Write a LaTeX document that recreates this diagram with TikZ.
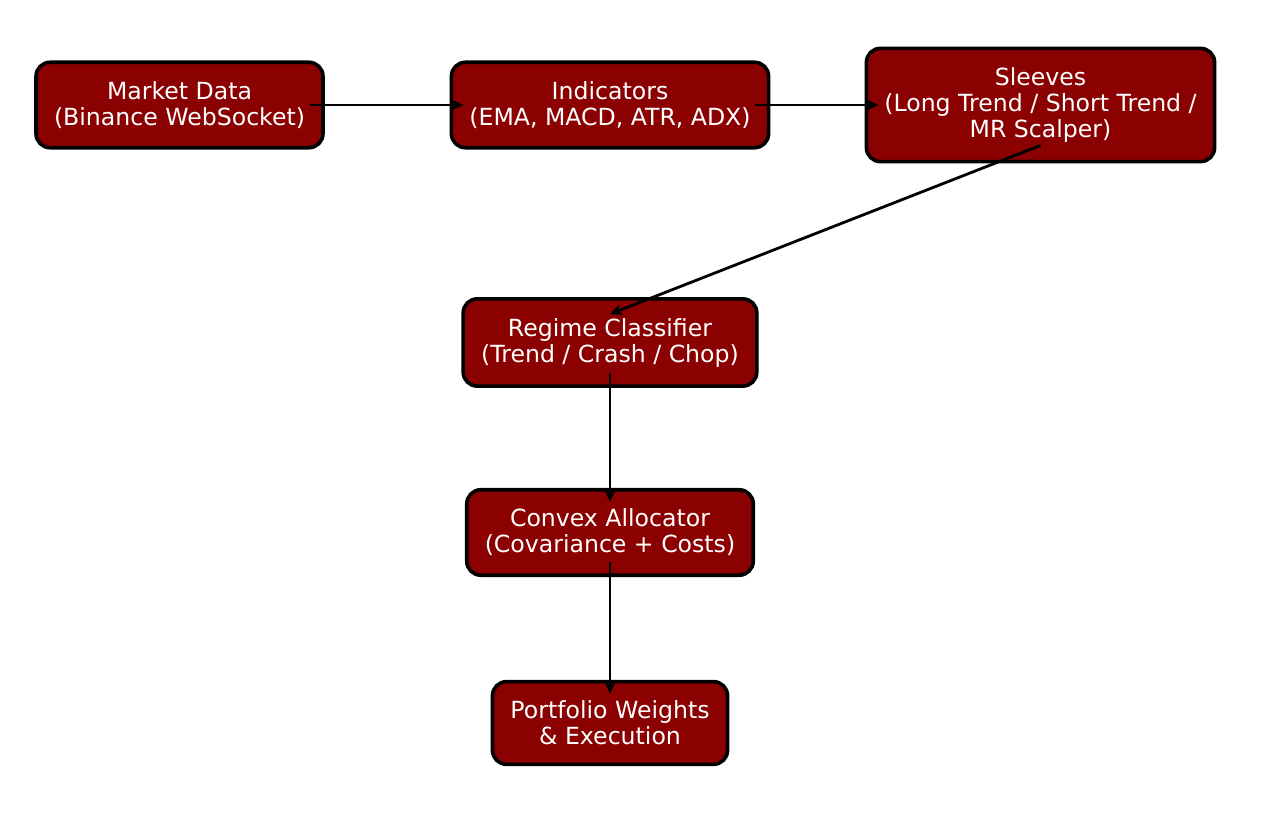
\documentclass[tikz,border=0pt]{standalone}
\usepackage{fontspec}
\setmainfont{DejaVu Sans}
\usetikzlibrary{arrows.meta, positioning}
\definecolor{boxred}{HTML}{8B0000}
\begin{document}
\begin{tikzpicture} [
    x=0.5pt, y=-0.5pt,
    stage/.style = {draw=black, line width=1.8pt, fill=boxred,
        rounded corners=7pt, text=white, align=center,
        inner xsep=9pt, inner ysep=9.6pt,
        font=\fontsize{11.8}{13}\selectfont},
    flow/.style = {line width=1.4pt,
        -{Stealth[length=6pt, width=5.5pt, inset=1.5pt]},
        shorten <=-7.5pt, shorten >=-7pt}]
    % \draw [help lines] (0,0) grid (1269,833);
    \useasboundingbox (0,0) rectangle (1269,833);
    \node (md) [stage] at (179.5,105) {Market Data\\(Binance WebSocket)};
    \node (ind) [stage] at (610,105) {Indicators\\(EMA, MACD, ATR, ADX)};
    \node (sl) [stage] at (1040.5,105) {Sleeves\\(Long Trend / Short Trend /\\MR Scalper)};
    \node (rc) [stage] at (610,342.5) {Regime Classifier\\(Trend / Crash / Chop)};
    \node (ca) [stage] at (610,532.5) {Convex Allocator\\(Covariance + Costs)};
    \node (pw) [stage] at (610,723) {Portfolio Weights\\\& Execution};

    \draw [flow] (md.east) -- (ind.west);
    \draw [flow] (ind.east) -- (sl.west);
    \draw [flow, shorten <=0pt, shorten >=0pt]
        ([yshift=9pt]sl.south) -- ([yshift=-8.5pt]rc.north);
    \draw [flow] (rc.south) -- (ca.north);
    \draw [flow] (ca.south) -- (pw.north);
\end{tikzpicture}
\end{document}
